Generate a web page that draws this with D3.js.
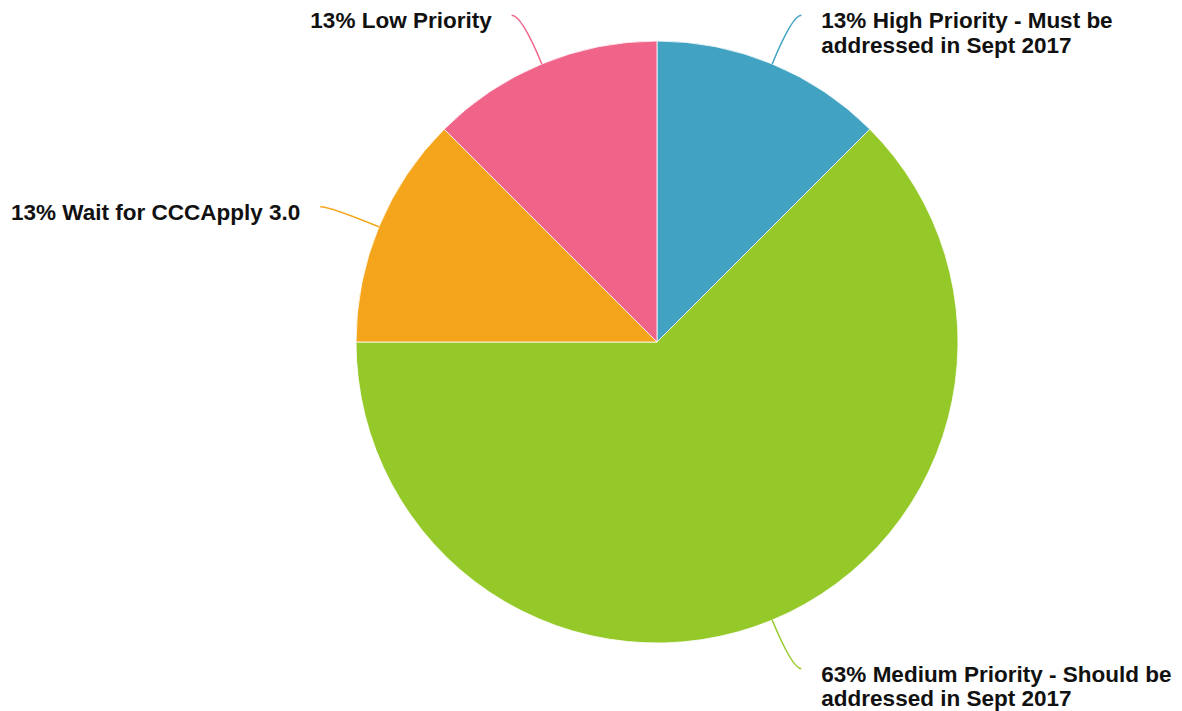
<!DOCTYPE html>
<html>
<head>
<meta charset="utf-8">
<script src="https://cdn.jsdelivr.net/npm/d3@7"></script>
<style>
  html, body { margin: 0; padding: 0; background: #fff; }
  svg { display: block; }
  text { font-family: "Liberation Sans", Arial, Helvetica, sans-serif; font-weight: bold; fill: #111; }
</style>
</head>
<body>
<svg id="chart" width="1182" height="711"></svg>
<script>
const categories = [
  "High Priority - Must be addressed in Sept 2017",
  "Medium Priority - Should be addressed in Sept 2017",
  "Wait for CCCApply 3.0",
  "Low Priority"
];
const values = [1, 5, 1, 1];
const colors = ["#41a2c2", "#95c92a", "#f5a51b", "#f06489"];

const W = 1182, H = 711;
const cx = 657, cy = 342, R = 301;
const svg = d3.select("#chart");
const g = svg.append("g").attr("transform", `translate(${cx},${cy})`);

const total = d3.sum(values);
const data = categories.map((c, i) => ({ name: c, value: values[i], color: colors[i] }));
const pie = d3.pie().sort(null).value(d => d.value);
const arcs = pie(data);
const arc = d3.arc().innerRadius(0).outerRadius(R);

g.selectAll("path.slice").data(arcs).enter().append("path")
  .attr("class", "slice")
  .attr("d", arc)
  .attr("fill", d => d.data.color)
  .attr("stroke", "#fff")
  .attr("stroke-width", 0.8);

const fmt = v => Math.round(v / total * 100) + "%";
const R2 = R * 1.175;
function polar(a, r) { return [r * Math.sin(a), -r * Math.cos(a)]; }

arcs.forEach(d => {
  const mid = (d.startAngle + d.endAngle) / 2;
  const right = Math.sin(mid) >= 0;
  const p0 = polar(mid, R);
  const p1 = polar(mid, R2);
  const p2 = [p1[0] + (right ? 9 : -10), p1[1]];
  const path = d3.path();
  path.moveTo(p0[0], p0[1]);
  path.quadraticCurveTo(p1[0], p1[1], p2[0], p2[1]);
  g.append("path").attr("d", path.toString())
    .attr("fill", "none").attr("stroke", d.data.color).attr("stroke-width", 1.5);

  const tx = p2[0] + (right ? 20 : -20);
  const text = g.append("text")
    .attr("x", tx).attr("y", p2[1] + 13)
    .attr("text-anchor", right ? "start" : "end")
    .style("font-size", "22.5px");
  const words = (fmt(d.data.value) + " " + d.data.name).split(" ");
  let line = [];
  let tspan = text.append("tspan").attr("x", tx).attr("dy", 0);
  words.forEach(w => {
    line.push(w);
    tspan.text(line.join(" "));
    if (tspan.node().getComputedTextLength() > 385 && line.length > 1) {
      line.pop();
      tspan.text(line.join(" "));
      line = [w];
      tspan = text.append("tspan").attr("x", tx).attr("dy", 24.5).text(w);
    }
  });
});
</script>
</body>
</html>
